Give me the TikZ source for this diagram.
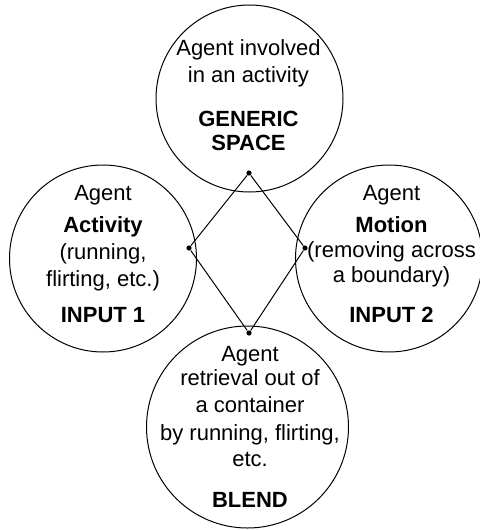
\documentclass[tikz,border=0pt]{standalone}
\usepackage{fontspec}
\setmainfont{Liberation Sans}
\usetikzlibrary{positioning}
\tikzset{
  space/.style    = {draw, circle, line width=0.5pt, inner sep=0pt, minimum size=93.5pt},
  bigspace/.style = {space, minimum size=101pt},
  spacetext/.style = {align=center, anchor=base, inner sep=0pt,
                      font=\fontsize{11}{13.4}\selectfont},
  dot/.style      = {circle, fill, inner sep=0pt, minimum size=2.6pt},
  link/.style     = {line width=0.5pt},
}

\begin{document}
\begin{tikzpicture}[x=0.5pt, y=-0.5pt]
  \useasboundingbox (0,0) rectangle (479,530);

  % the four spaces
  \node[space]    (gen)   at (249.5,98.5) {};
  \node[space]    (in1)   at (103,258.5)  {};
  \node[space]    (in2)   at (389,258.5)  {};
  \node[bigspace] (blend) at (247.5,427)  {};

  % texts, placed by the baseline of their last line
  \node[spacetext] (genT) at (248.5,150)
    {Agent involved\\in an activity\\[8.5pt]\textbf{GENERIC}\\[-1.5pt]\textbf{SPACE}};
  \node[spacetext] (in1T) at (103,322.7)
    {Agent\\[2.8pt]\textbf{Activity}\\(running,\\flirting, etc.)\\[4.8pt]\textbf{INPUT 1}};
  \node[spacetext] (in2T) at (391.5,322.7)
    {Agent\\[2.3pt]\textbf{Motion}\\[-1pt](removing across\\[-0.5pt]a boundary)\\[6.5pt]\textbf{INPUT 2}};
  \node[spacetext] (blendT) at (250,507)
    {Agent\\[-1.3pt]retrieval out of\\a container\\[0.5pt]by running, flirting,\\etc.\\[6.7pt]\textbf{BLEND}};

  % mapping diamond
  \node[dot] (gdot) at (249,173) {};
  \node[dot] (ldot) at (189,248) {};
  \node[dot] (rdot) at (305,248) {};
  \node[dot] (bdot) at (249,333) {};

  \draw[link] (gdot) -- (ldot);
  \draw[link] (gdot) -- (rdot);
  \draw[link] (ldot) -- (bdot);
  \draw[link] (rdot) -- (bdot);
\end{tikzpicture}
\end{document}
